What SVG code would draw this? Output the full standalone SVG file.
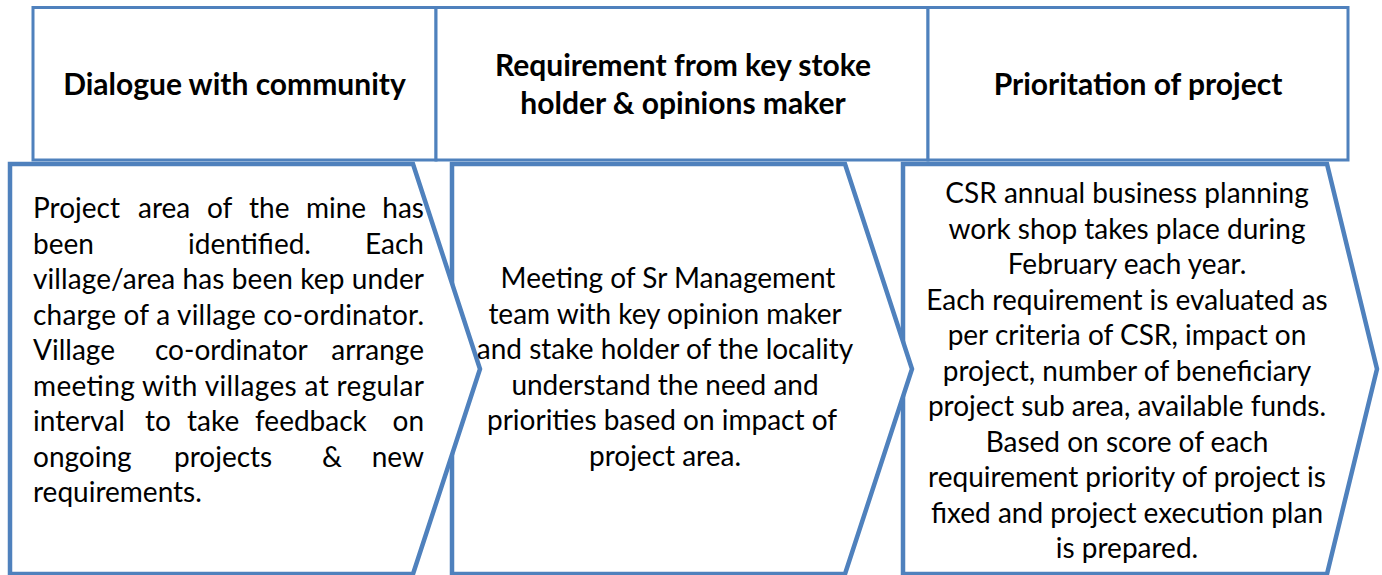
<svg xmlns="http://www.w3.org/2000/svg" width="1382" height="575" viewBox="0 0 1382 575">
<style>
.hdr{fill:#fff;stroke:#4F81BD;stroke-width:3}
.chev{fill:#fff;stroke:#4F81BD;stroke-width:4.5;stroke-linejoin:miter}
.ht{font-family:Lato,"Open Sans","Liberation Sans",sans-serif;font-weight:bold;font-size:30px;fill:#000;text-anchor:middle}
.bt{font-family:Lato,"Open Sans","Liberation Sans",sans-serif;font-size:28px;fill:#000}
.c{text-anchor:middle}
.e{text-anchor:end}
</style>
<rect width="1382" height="575" fill="#fff"/>
<g id="chevron3">
<polygon class="chev" points="903,164 1327,164 1377,369 1327,574 903,574"/>
<text class="bt c" x="1127" y="203">CSR annual business planning</text>
<text class="bt c" x="1127" y="238.5">work shop takes place during</text>
<text class="bt c" x="1127" y="274">February each year.</text>
<text class="bt c" x="1127" y="309.5">Each requirement is evaluated as</text>
<text class="bt c" x="1127" y="345">per criteria of CSR, impact on</text>
<text class="bt c" x="1127" y="380.5">project, number of beneficiary</text>
<text class="bt c" x="1127" y="416">project sub area, available funds.</text>
<text class="bt c" x="1127" y="451.5">Based on score of each</text>
<text class="bt c" x="1127" y="487">requirement priority of project is</text>
<text class="bt c" x="1127" y="522.5">fixed and project execution plan</text>
<text class="bt c" x="1127" y="558">is prepared.</text>
</g>
<g id="chevron2">
<polygon class="chev" points="452,164 845,164 912,369 845,574 452,574"/>
<text class="bt c" x="668" y="288">Meeting of Sr Management</text>
<text class="bt c" x="665" y="323.5">team with key opinion maker</text>
<text class="bt c" x="665" y="359">and stake holder of the locality</text>
<text class="bt c" x="665" y="394.5">understand the need and</text>
<text class="bt c" x="662" y="430">priorities based on impact of</text>
<text class="bt c" x="665" y="465.5">project area.</text>
</g>
<g id="chevron1">
<polygon class="chev" points="10,164 413,164 480,369 413,574 10,574"/>
<text class="bt" y="218"><tspan x="33">Project</tspan><tspan x="138">area</tspan><tspan x="207">of</tspan><tspan x="249">the</tspan><tspan x="306">mine</tspan></text>
<text class="bt e" x="424" y="218">has</text>
<text class="bt" y="253.5"><tspan x="33">been</tspan><tspan x="188">identified.</tspan></text>
<text class="bt e" x="424" y="253.5">Each</text>
<text class="bt" x="33" y="289" textLength="391">village/area has been kep under</text>
<text class="bt" x="33" y="324.5" textLength="391">charge of a village co-ordinator.</text>
<text class="bt" y="360"><tspan x="33">Village</tspan><tspan x="155">co-ordinator</tspan></text>
<text class="bt e" x="424" y="360">arrange</text>
<text class="bt" x="33" y="395.5" textLength="391">meeting with villages at regular</text>
<text class="bt" y="431"><tspan x="33">interval</tspan><tspan x="145">to</tspan><tspan x="187">take</tspan><tspan x="255">feedback</tspan></text>
<text class="bt e" x="424" y="431">on</text>
<text class="bt" y="466.5"><tspan x="33">ongoing</tspan><tspan x="174">projects</tspan><tspan x="322">&amp;</tspan></text>
<text class="bt e" x="424" y="466.5">new</text>
<text class="bt" x="33" y="502">requirements.</text>
</g>
<g id="header1">
<rect class="hdr" x="33" y="7.5" width="403" height="152.5"/>
<text class="ht" x="234.5" y="95">Dialogue with community</text>
</g>
<g id="header2">
<rect class="hdr" x="436" y="7.5" width="492" height="152.5"/>
<text class="ht" x="683" y="76">Requirement from key stoke</text>
<text class="ht" x="683" y="114">holder &amp; opinions maker</text>
</g>
<g id="header3">
<rect class="hdr" x="928" y="7.5" width="420" height="152.5"/>
<text class="ht" x="1138" y="95">Prioritation of project</text>
</g>
<g id="connectors"/>
</svg>
